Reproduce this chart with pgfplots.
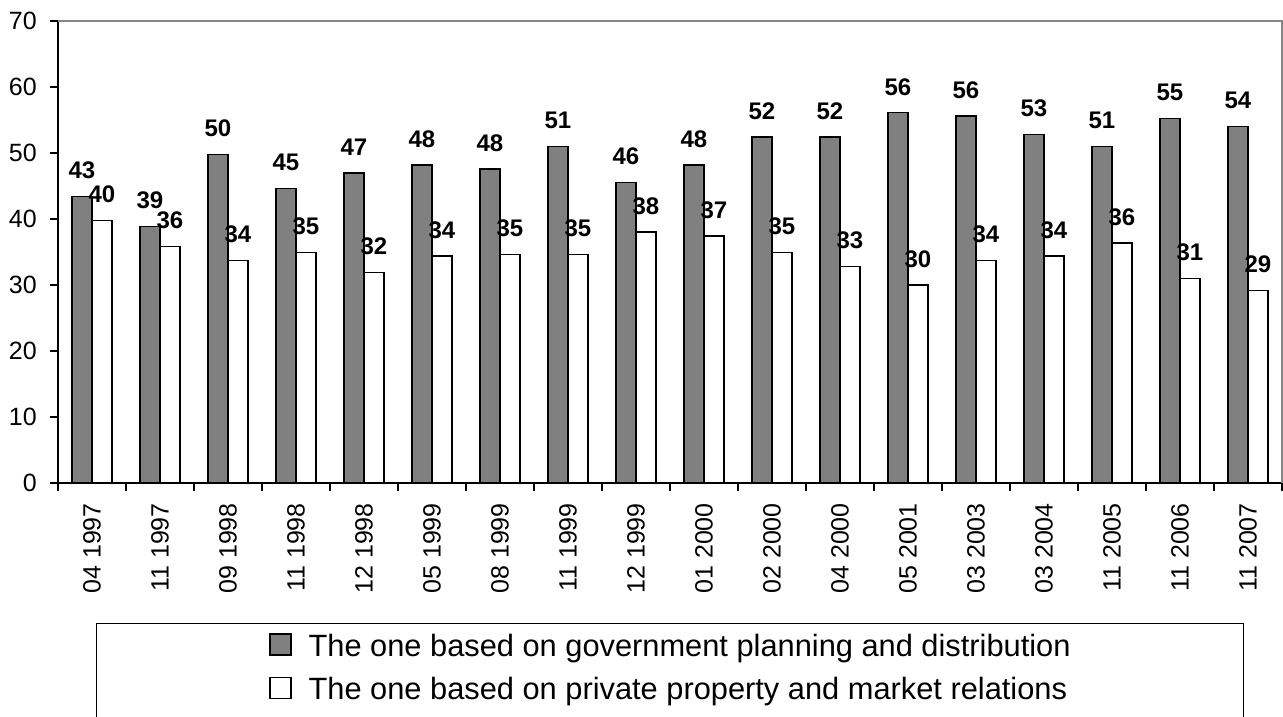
\documentclass[border=0pt]{standalone}
\usepackage{pgfplots}
\pgfplotsset{compat=1.18}
\usepackage{pgfplotstable}
\usepackage{fontspec}
\setmainfont{Liberation Sans}
\definecolor{bargray}{RGB}{128,128,128}
\definecolor{framegray}{RGB}{134,134,134}

% idx, government planning (g), market relations (w), printed labels
\pgfplotstableread{
idx g    w    gl wl
0   43.4 39.8 43 40
1   38.9 35.8 39 36
2   49.8 33.7 50 34
3   44.6 34.9 45 35
4   47.0 31.9 47 32
5   48.2 34.4 48 34
6   47.6 34.6 48 35
7   51.0 34.6 51 35
8   45.5 38.0 46 38
9   48.2 37.4 48 37
10  52.4 34.9 52 35
11  52.4 32.8 52 33
12  56.1 30.0 56 30
13  55.6 33.7 56 34
14  52.8 34.4 53 34
15  51.0 36.4 51 36
16  55.2 31.0 55 31
17  54.0 29.2 54 29
}\polls

\begin{document}
\begin{tikzpicture}
\begin{axis}[
    scale only axis,
    width=1224bp, height=462bp,
    ybar=0pt, bar width=20bp,
    xmin=-0.5, xmax=17.5,
    ymin=0, ymax=70,
    ytick={0,10,...,70},
    xtick={-0.5,0.5,...,17.5},
    x tick label as interval,
    xticklabels={04 1997,11 1997,09 1998,11 1998,12 1998,05 1999,08 1999,11 1999,12 1999,
                 01 2000,02 2000,04 2000,05 2001,03 2003,03 2004,11 2005,11 2006,11 2007},
    axis lines*=left,
    axis line style={line width=1.5bp, -},
    tick align=outside,
    major tick length=8bp,
    tick style={line width=1.2bp, black},
    /pgf/number format/assume math mode=true,
    yticklabel style={inner sep=0pt, xshift=-13bp, font=\fontsize{25bp}{30bp}\selectfont},
    xticklabel style={yshift=-12bp, rotate=90, anchor=east, inner sep=0pt,
                      font=\fontsize{25bp}{30bp}\selectfont},
    enlargelimits=false,
    clip=false,
    point meta=explicit symbolic,
    nodes near coords,
    nodes near coords style={anchor=center, yshift=26bp, black,
                             font=\bfseries\fontsize{24bp}{29bp}\selectfont},
    legend style={at={(0.5,-0.303)}, anchor=north, draw=black, line width=1bp,
                  inner xsep=173bp, inner ysep=10bp, row sep=12.5bp, column sep=17bp,
                  font=\fontsize{30.8bp}{37bp}\selectfont,
                  nodes={inner sep=0pt, text height=22bp, text depth=8bp}},
    legend cell align=left,
]
\addplot[fill=bargray, draw=black, line width=1.5bp,
         legend image code/.code={\draw[fill=bargray, draw=black, line width=1.2bp] (0bp,-6bp) rectangle (21bp,15bp);}]
    table[x=idx, y=g, meta=gl] {\polls};
\addplot[fill=white, draw=black, line width=1.5bp,
         legend image code/.code={\draw[fill=white, draw=black, line width=1.2bp] (0bp,-6bp) rectangle (21bp,15bp);}]
    table[x=idx, y=w, meta=wl] {\polls};
\legend{The one based on government planning and distribution,
        The one based on private property and market relations}
\draw[framegray, line width=1.5bp] (rel axis cs:0,1) -- (rel axis cs:1,1) -- (rel axis cs:1,0);
\end{axis}
\pgfresetboundingbox
\useasboundingbox (-58bp,-234bp) rectangle (1225bp,483bp);
\end{tikzpicture}
\end{document}
